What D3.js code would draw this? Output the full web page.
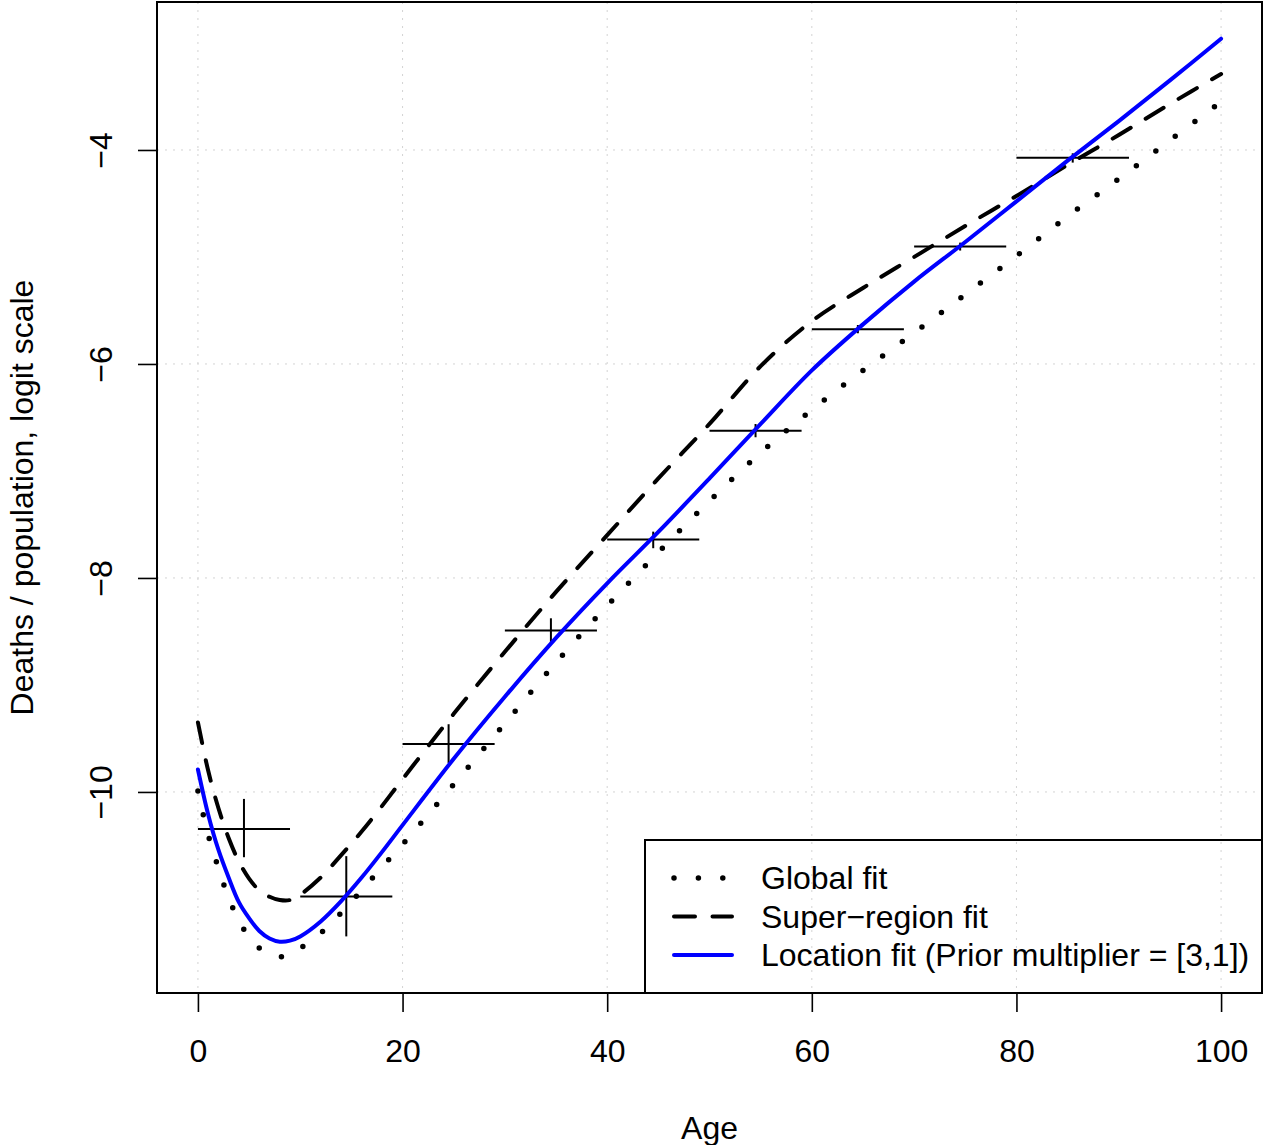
<!DOCTYPE html>
<html>
<head>
<meta charset="utf-8">
<script src="https://cdn.jsdelivr.net/npm/d3@7"></script>
<style>
  html, body { margin: 0; padding: 0; background: #fff; }
  svg { display: block; }
  text { font-family: "Liberation Sans", Arial, Helvetica, sans-serif; fill: #000; }
</style>
</head>
<body>
<svg id="chart" width="1263" height="1145"></svg>
<script>
// ---------------- data ----------------
const ages = [0,1,2,3,4,5,6,7,8,9,10,12,14,16,18,20,25,30,35,40,45,50,55,60,65,70,75,80,85,90,95,100];
const globalFit = [-9.99,-10.40,-10.71,-10.99,-11.20,-11.36,-11.46,-11.52,-11.54,-11.52,-11.46,-11.32,-11.13,-10.92,-10.70,-10.49,-9.93,-9.36,-8.79,-8.26,-7.76,-7.28,-6.83,-6.43,-6.06,-5.71,-5.35,-4.99,-4.62,-4.27,-3.91,-3.55];
const superRegionFit = [-9.35,-9.80,-10.15,-10.43,-10.65,-10.81,-10.92,-10.98,-11.01,-11.01,-10.96,-10.80,-10.59,-10.37,-10.13,-9.88,-9.27,-8.69,-8.13,-7.60,-7.07,-6.56,-6.02,-5.60,-5.29,-5.00,-4.71,-4.43,-4.14,-3.86,-3.57,-3.29];
const locationFit = [-9.79,-10.21,-10.54,-10.80,-11.03,-11.18,-11.30,-11.37,-11.40,-11.39,-11.35,-11.21,-11.02,-10.80,-10.56,-10.31,-9.69,-9.11,-8.56,-8.05,-7.57,-7.07,-6.56,-6.06,-5.63,-5.23,-4.86,-4.48,-4.10,-3.73,-3.35,-2.96];

const obsAgeStart = [0,10,20,30,40,50,60,70,80];
const obsAgeEnd   = [9,19,29,39,49,59,69,79,91];
const obsValue = [-10.346,-10.978,-9.551,-8.490,-7.640,-6.623,-5.676,-4.903,-4.072];
const obsLower = [-10.610,-11.350,-9.730,-8.603,-7.722,-6.685,-5.713,-4.940,-4.118];
const obsUpper = [-10.065,-10.600,-9.367,-8.377,-7.567,-6.561,-5.636,-4.866,-4.031];

const xTicks = [0,20,40,60,80,100];
const yTicks = [-10,-8,-6,-4];
const legendLabels = ["Global fit","Super\u2212region fit","Location fit (Prior multiplier = [3,1])"];
const xLabel = "Age";
const yLabel = "Deaths / population, logit scale";

// ---------------- layout ----------------
const L = 157, R = 1262, T = 2, B = 993;
const FS = 32;
const svg = d3.select("#chart");

const x = d3.scaleLinear().domain([-4, 104]).range([L, R]);
const y = d3.scaleLinear().domain([-11.879, -2.617]).range([B, T]);

const fmt = v => (v < 0 ? "\u2212" + Math.abs(v) : String(v));

// grid
const grid = svg.append("g").attr("stroke", "#d3d3d3").attr("stroke-width", 1).attr("stroke-dasharray", "2 6");
grid.selectAll("line.gx").data(xTicks).join("line")
  .attr("x1", d => x(d)).attr("x2", d => x(d)).attr("y1", T).attr("y2", B);
grid.selectAll("line.gy").data(yTicks).join("line")
  .attr("y1", d => y(d)).attr("y2", d => y(d)).attr("x1", L).attr("x2", R);

// clip
svg.append("clipPath").attr("id", "clip").append("rect")
  .attr("x", L).attr("y", T).attr("width", R - L).attr("height", B - T);
const plot = svg.append("g").attr("clip-path", "url(#clip)");

const line = vals => d3.line().x((d, i) => x(ages[i])).y(d => y(d)).curve(d3.curveCatmullRom.alpha(0.5))(vals);

// crosses (observations)
const obs = plot.append("g").attr("stroke", "#000").attr("stroke-width", 2);
obs.selectAll("line.h").data(obsValue).join("line")
  .attr("x1", (d, i) => x(obsAgeStart[i])).attr("x2", (d, i) => x(obsAgeEnd[i]))
  .attr("y1", d => y(d)).attr("y2", d => y(d));
obs.selectAll("line.v").data(obsValue).join("line")
  .attr("x1", (d, i) => x((obsAgeStart[i] + obsAgeEnd[i]) / 2))
  .attr("x2", (d, i) => x((obsAgeStart[i] + obsAgeEnd[i]) / 2))
  .attr("y1", (d, i) => y(obsLower[i])).attr("y2", (d, i) => y(obsUpper[i]));

// fits
plot.append("path").attr("d", line(globalFit)).attr("fill", "none")
  .attr("stroke", "#000").attr("stroke-width", 5.5).attr("stroke-linecap", "round")
  .attr("stroke-dasharray", "0 24.4");
plot.append("path").attr("d", line(superRegionFit)).attr("fill", "none")
  .attr("stroke", "#000").attr("stroke-width", 4).attr("stroke-linecap", "round")
  .attr("stroke-dasharray", "21 17.5");
plot.append("path").attr("d", line(locationFit)).attr("fill", "none")
  .attr("stroke", "#0000ff").attr("stroke-width", 4).attr("stroke-linecap", "round");

// axes
const xAxis = svg.append("g").attr("transform", `translate(0,${B})`)
  .call(d3.axisBottom(x).tickValues(xTicks).tickSize(19).tickFormat(fmt));
xAxis.select(".domain").remove();
xAxis.selectAll(".tick line").attr("stroke", "#000").attr("stroke-width", 1.6);
xAxis.selectAll(".tick text").attr("y", 69).attr("dy", null)
  .style("font-size", FS + "px").style("font-family", '"Liberation Sans", Arial, sans-serif');

const yAxis = svg.append("g").attr("transform", `translate(${L},0)`)
  .call(d3.axisLeft(y).tickValues(yTicks).tickSize(19).tickFormat(fmt));
yAxis.select(".domain").remove();
yAxis.selectAll(".tick line").attr("stroke", "#000").attr("stroke-width", 1.6);
yAxis.selectAll(".tick text").attr("transform", "rotate(-90)").attr("x", 0).attr("y", -45)
  .attr("dy", null).attr("text-anchor", "middle")
  .style("font-size", FS + "px").style("font-family", '"Liberation Sans", Arial, sans-serif');

// box
svg.append("rect").attr("x", L).attr("y", T).attr("width", R - L).attr("height", B - T)
  .attr("fill", "none").attr("stroke", "#000").attr("stroke-width", 2);

// axis titles
svg.append("text").attr("x", (L + R) / 2).attr("y", 1139).attr("text-anchor", "middle")
  .style("font-size", FS + "px").text(xLabel);
svg.append("text").attr("transform", `translate(33,${(T + B) / 2}) rotate(-90)`)
  .attr("text-anchor", "middle").style("font-size", FS + "px").text(yLabel);

// legend
const lg = svg.append("g");
lg.append("rect").attr("x", 645).attr("y", 840).attr("width", R - 645).attr("height", B - 840)
  .attr("fill", "none").attr("stroke", "#000").attr("stroke-width", 2);
const rowsY = [878, 916.5, 955];
const styles = [
  {stroke: "#000", w: 5.5, dash: "0 24.4"},
  {stroke: "#000", w: 4, dash: "21 17.5"},
  {stroke: "#0000ff", w: 4, dash: null}
];
legendLabels.forEach((lab, i) => {
  lg.append("line").attr("x1", 674).attr("x2", 732).attr("y1", rowsY[i]).attr("y2", rowsY[i])
    .attr("stroke", styles[i].stroke).attr("stroke-width", styles[i].w)
    .attr("stroke-linecap", "round").attr("stroke-dasharray", styles[i].dash);
  lg.append("text").attr("x", 761).attr("y", rowsY[i] + 11).style("font-size", FS + "px").text(lab);
});
</script>
</body>
</html>
